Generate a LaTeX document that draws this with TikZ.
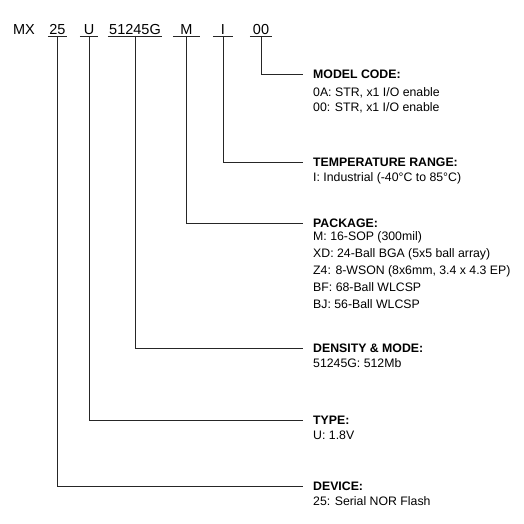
\documentclass[tikz,border=0pt]{standalone}
\usepackage{fontspec}
\setmainfont{Liberation Sans}
\usetikzlibrary{positioning}
\tikzset{
  field/.style={anchor=south, inner xsep=0pt, inner ysep=1.5pt, text depth=0pt, font=\fontsize{14.5}{16}\selectfont},
  heading/.style={anchor=west, inner sep=0pt, text height=8.8pt, text depth=0pt, font=\fontsize{12.3}{15}\selectfont\bfseries},
  body/.style={anchor=base west, inner sep=0pt, font=\fontsize{12.3}{15}\selectfont},
  wire/.style={line width=0.9pt, black!85, shorten >=10pt},
  uline/.style={line width=0.9pt, black!85}
}

\begin{document}
\begin{tikzpicture}[x=1pt, y=-1pt]
\useasboundingbox (0,0) rectangle (524,524);
% part number
\node[field] (fmx) at (24,36) {MX};
\node[field, minimum width=19pt] (fdev) at (57.5,36) {25};
\node[field, minimum width=18pt] (ftype) at (89,36) {U};
\node[field, minimum width=54pt] (fdens) at (135,36) {51245G};
\node[field, minimum width=27pt] (fpkg) at (186.5,36) {M};
\node[field, minimum width=20pt] (ftemp) at (223,36) {I};
\node[field, minimum width=22pt] (fmodel) at (261,36) {00};
\foreach \f in {fdev,ftype,fdens,fpkg,ftemp,fmodel}
  \draw[uline] (\f.south west) -- (\f.south east);

% headings
\node[heading] (hmodel) at (313,74) {MODEL CODE:};
\node[heading] (htemp) at (313,162.5) {TEMPERATURE RANGE:};
\node[heading] (hpkg) at (313,223.5) {PACKAGE:};
\node[heading] (hdens) at (313,348.5) {DENSITY \& MODE:};
\node[heading] (htype) at (313,420) {TYPE:};
\node[heading] (hdev) at (313,486) {DEVICE:};

% descriptions
\node[body] (bmodel1) at (313,96.5) {0A: STR, x1 I/O enable};
\node[body] (bmodel2) at (313,111.5) {00: STR, x1 I/O enable};
\node[body] (btemp) at (313,181.5) {I: Industrial (-40°C to 85°C)};
\foreach \t [count=\i] in {{M: 16-SOP (300mil)}, {XD: 24-Ball BGA (5x5 ball array)},
    {Z4: 8-WSON (8x6mm, 3.4 x 4.3 EP)}, {BF: 68-Ball WLCSP}, {BJ: 56-Ball WLCSP}}
  \node[body] (bpkg\i) at (313,{240.5+17*(\i-1)}) {\t};
\node[body] (bdens) at (313,367.5) {51245G: 512Mb};
\node[body] (btype) at (313,439.5) {U: 1.8V};
\node[body] (bdev) at (313,505.5) {25: Serial NOR Flash};

% leaders
\draw[wire] (fmodel.south) |- (hmodel.west);
\draw[wire] (ftemp.south) |- (htemp.west);
\draw[wire] (fpkg.south) |- (hpkg.west);
\draw[wire] (fdens.south) |- (hdens.west);
\draw[wire] (ftype.south) |- (htype.west);
\draw[wire] (fdev.south) |- (hdev.west);
\end{tikzpicture}
\end{document}
